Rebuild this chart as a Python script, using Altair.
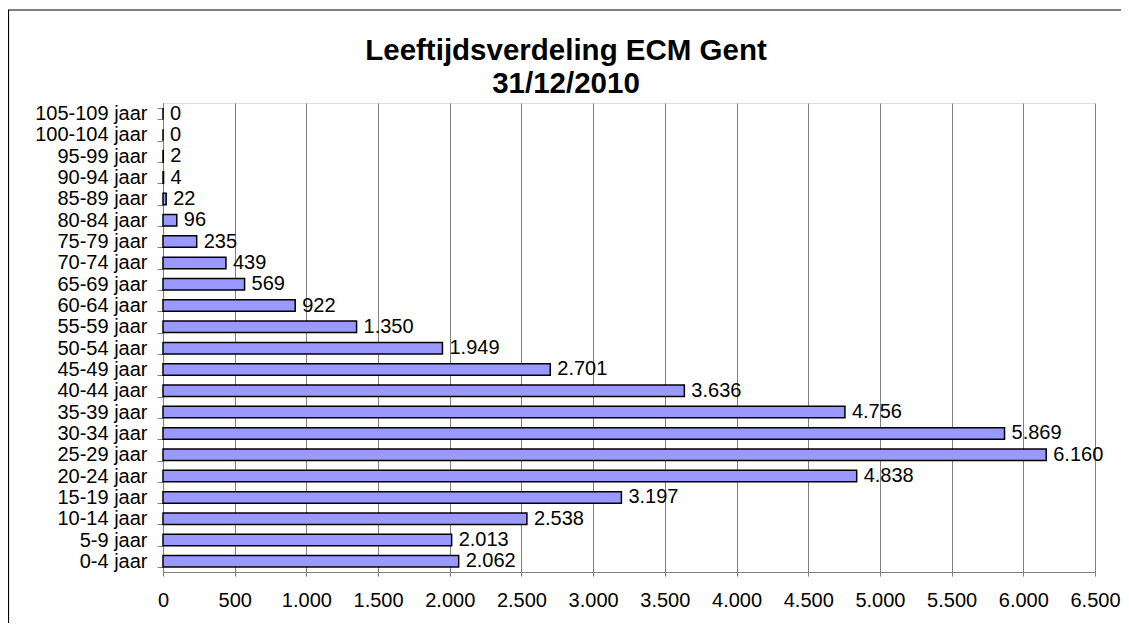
import altair as alt
import pandas as pd

categories = ["0-4 jaar", "5-9 jaar", "10-14 jaar", "15-19 jaar", "20-24 jaar", "25-29 jaar",
              "30-34 jaar", "35-39 jaar", "40-44 jaar", "45-49 jaar", "50-54 jaar", "55-59 jaar",
              "60-64 jaar", "65-69 jaar", "70-74 jaar", "75-79 jaar", "80-84 jaar", "85-89 jaar",
              "90-94 jaar", "95-99 jaar", "100-104 jaar", "105-109 jaar"]
values = [2062, 2013, 2538, 3197, 4838, 6160, 5869, 4756, 3636, 2701, 1949, 1350,
          922, 569, 439, 235, 96, 22, 4, 2, 0, 0]
x_ticks = [0, 500, 1000, 1500, 2000, 2500, 3000, 3500, 4000, 4500, 5000, 5500, 6000, 6500]
title_lines = ["Leeftijdsverdeling ECM Gent", "31/12/2010"]

FONT = "Liberation Sans"
FS = 20

df = pd.DataFrame({"leeftijd": categories, "aantal": values})
df["label"] = [f"{v:,}".replace(",", ".") for v in values]

order = list(reversed(categories))

W, H = 932, 469

x_enc = alt.X("aantal:Q",
              scale=alt.Scale(domain=[0, 6500], nice=False, zero=True),
              axis=alt.Axis(values=x_ticks, title=None, grid=True, gridColor="#808080",
                            gridWidth=1, domainColor="#808080", tickColor="#808080",
                            tickSize=4, labelPadding=14, labelFont=FONT, labelFontSize=FS,
                            labelColor="black", labelFlush=False, labelOverlap=False,
                            labelExpr="replace(format(datum.value, ','), ',', '.')"))
y_enc = alt.Y("leeftijd:N", sort=order,
              scale=alt.Scale(paddingInner=0.46, paddingOuter=0.23),
              axis=alt.Axis(title=None, tickBand="extent", domainColor="#808080",
                            tickColor="#808080", tickSize=6, labelPadding=10,
                            labelFont=FONT, labelFontSize=FS, labelColor="black",
                            labelOverlap=False, grid=False))

base = alt.Chart(df)

bars = base.mark_bar(fill="#9999FF", stroke="black", strokeWidth=1.5).encode(x=x_enc, y=y_enc)

labels = base.mark_text(align="left", baseline="middle", dx=7, font=FONT, fontSize=FS,
                        color="black").encode(x="aantal:Q", y=alt.Y("leeftijd:N", sort=order),
                                              text="label:N")

title = alt.Chart(pd.DataFrame({"t": [title_lines]})).mark_text(
    align="center", baseline="alphabetic", font=FONT, fontSize=29.5, fontWeight="bold",
    lineHeight=33, color="black").encode(
    x=alt.value(403), y=alt.value(-43), text="t")

frame = alt.Chart(pd.DataFrame({"f": [0]})).mark_rect(
    fillOpacity=0, stroke="black", strokeWidth=1.2).encode(
    x=alt.value(-154.5), x2=alt.value(990), y=alt.value(-93), y2=alt.value(560))

chart = alt.layer(frame, bars, labels, title).properties(
    width=W, height=H,
    autosize=alt.AutoSizeParams(type="none"),
    padding={"left": 155, "top": 95, "right": 26, "bottom": 51},
).configure_view(stroke="#808080", strokeWidth=1).configure(background="white")

chart.save("out.html", embed_options={"renderer": "svg", "actions": False})
